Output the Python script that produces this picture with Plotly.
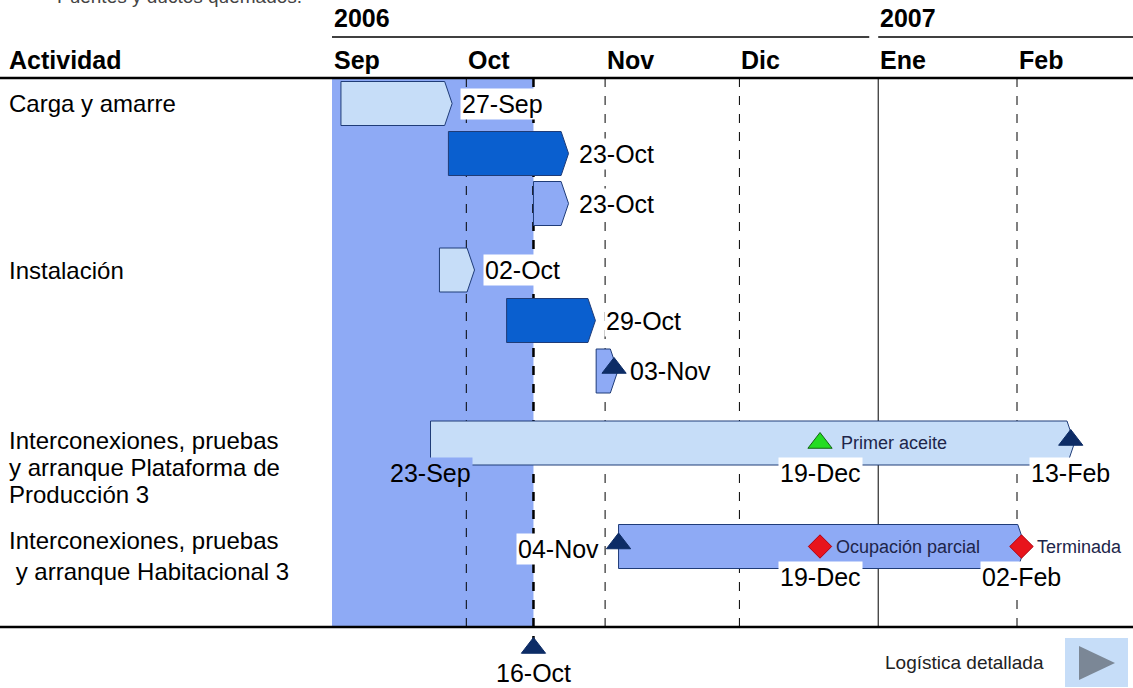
import pandas as pd
import plotly.graph_objects as go

# ================================
# Datos
# ================================
ACTIVIDADES = [
    ["Carga y amarre"],
    ["Instalación"],
    ["Interconexiones, pruebas", "y arranque Plataforma de", "Producción 3"],
    ["Interconexiones, pruebas", " y arranque Habitacional 3"],
]
MESES = ["Sep", "Oct", "Nov", "Dic", "Ene", "Feb"]
INICIO_MES = ["2006-09-01", "2006-10-01", "2006-11-01", "2006-12-01", "2007-01-01", "2007-02-01"]
ANIOS = ["2006", "2007"]
INICIO_ANIO = ["2006-09-01", "2007-01-01"]
HOY = "2006-10-16"

TAREA_INICIO = ["2006-09-03", "2006-09-27", "2006-10-16", "2006-09-25",
                "2006-10-10", "2006-10-30", "2006-09-23", "2006-11-04"]
TAREA_FIN = ["2006-09-27", "2006-10-23", "2006-10-23", "2006-10-02",
             "2006-10-29", "2006-11-03", "2007-02-13", "2007-02-02"]
TAREA_TIPO = ["claro", "oscuro", "medio", "claro", "oscuro", "medio", "claro", "medio"]

HITO_FECHA = ["2006-11-03", "2006-12-19", "2007-02-13", "2006-11-04", "2006-12-19", "2007-02-02"]
HITO_TAREA = [5, 6, 6, 7, 7, 7]
HITO_TIPO = ["fin", "aceite", "fin", "fin", "parcial", "parcial"]
HITO_TEXTO = ["", "Primer aceite", "", "", "Ocupación parcial", "Terminada"]

# ================================
# Estilo / posiciones (px)
# ================================
W, H = 1133, 688
FONT = "Liberation Sans, Arial, sans-serif"
FILA_Y = [103.5, 153.5, 203.5, 270, 320.5, 371, 443, 546.5]
ACT_Y = [[103], [270], [440, 467, 494], [540, 571]]
MEDIA_ALTURA = 22
Y_CAB = 78      # linea bajo encabezado
Y_PIE = 627     # linea inferior
Y_HOY = 648

COLOR = {"claro": "#c6ddf8", "oscuro": "#0a5fcf", "medio": "#8eaaf5"}
SOMBRA = "#8eaaf5"
BORDE = "#1f3c78"
NAVY = "#0d2c66"
F_CAB = 25     # encabezados en negrita
F_ACT = 24     # actividades
F_FECHA = 25   # etiquetas de fecha
F_HITO = 18

# escala: 1-Sep -> x=332, 1-Feb -> x=1017
ppd = (1017 - 332) / 153
x_ini = pd.Timestamp("2006-09-01") - pd.Timedelta(days=332 / ppd)
x_fin = pd.Timestamp("2007-02-01") + pd.Timedelta(days=(W - 1017) / ppd)


def fmt(d):
    return pd.Timestamp(d).strftime("%d-%b")


fig = go.Figure()
shapes = []
ann = []

# zona sombreada hasta hoy
shapes.append(dict(type="rect", xref="x", yref="y", x0="2006-09-01", x1=HOY,
                   y0=Y_CAB, y1=Y_PIE, fillcolor=SOMBRA, line_width=0, layer="below"))

# lineas de meses
for m, d in zip(MESES, INICIO_MES):
    if d == "2006-09-01":
        continue
    solida = d == "2007-01-01"
    shapes.append(dict(type="line", xref="x", yref="y", x0=d, x1=d, y0=Y_CAB, y1=Y_PIE,
                       line=dict(color="black", width=1, dash="solid" if solida else "dash"),
                       layer="below"))
# linea de hoy
shapes.append(dict(type="line", xref="x", yref="y", x0=HOY, x1=HOY, y0=Y_CAB, y1=Y_HOY - 8,
                   line=dict(color="black", width=2.5, dash="dash"), layer="below"))

# lineas horizontales
shapes.append(dict(type="line", xref="paper", yref="y", x0=0, x1=1, y0=Y_CAB, y1=Y_CAB,
                   line=dict(color="black", width=2.5)))
shapes.append(dict(type="line", xref="paper", yref="y", x0=0, x1=1, y0=Y_PIE, y1=Y_PIE,
                   line=dict(color="black", width=2.5)))
# lineas de años
fin_2006 = pd.Timestamp(INICIO_ANIO[1]) - pd.Timedelta(days=2)
shapes.append(dict(type="line", xref="x", yref="y", x0=INICIO_ANIO[0], x1=fin_2006, y0=37, y1=37,
                   line=dict(color="black", width=1.5)))
shapes.append(dict(type="line", xref="x", yref="y", x0=INICIO_ANIO[1], x1=x_fin, y0=37, y1=37,
                   line=dict(color="black", width=1.5)))

# encabezados
ann.append(dict(xref="paper", yref="y", x=7 / W, y=60, text="<b>Actividad</b>",
                xanchor="left", yanchor="middle", showarrow=False, font=dict(size=F_CAB, color="black")))
for a, d in zip(ANIOS, INICIO_ANIO):
    ann.append(dict(x=d, y=18, text="<b>%s</b>" % a, xanchor="left", yanchor="middle",
                    showarrow=False, font=dict(size=F_CAB, color="black")))
for m, d in zip(MESES, INICIO_MES):
    ann.append(dict(x=d, y=60, text="<b>%s</b>" % m, xanchor="left", yanchor="middle",
                    showarrow=False, font=dict(size=F_CAB, color="black")))

# actividades (columna izquierda)
for lineas, ys in zip(ACTIVIDADES, ACT_Y):
    for t, y in zip(lineas, ys):
        txt = "&nbsp;" + t[1:] if t.startswith(" ") else t
        ann.append(dict(xref="paper", yref="y", x=7 / W, y=y, text=txt,
                        xanchor="left", yanchor="middle", showarrow=False,
                        font=dict(size=F_ACT, color="black")))

# barras (flechas)
for i, (s, e, k) in enumerate(zip(TAREA_INICIO, TAREA_FIN, TAREA_TIPO)):
    yc = FILA_Y[i]
    hombro = pd.Timestamp(e) - pd.Timedelta(hours=20)
    punta = pd.Timestamp(e) + pd.Timedelta(hours=20)
    xs = [s, hombro, punta, hombro, s, s]
    ys = [yc - MEDIA_ALTURA, yc - MEDIA_ALTURA, yc, yc + MEDIA_ALTURA, yc + MEDIA_ALTURA, yc - MEDIA_ALTURA]
    fig.add_trace(go.Scatter(x=xs, y=ys, mode="lines", fill="toself", fillcolor=COLOR[k],
                             line=dict(color=BORDE, width=1), hoverinfo="skip", showlegend=False))

# etiquetas de fin de barra
for i in range(6):
    ann.append(dict(x=TAREA_FIN[i], y=FILA_Y[i], text=fmt(TAREA_FIN[i]), xanchor="left",
                    yanchor="middle", xshift=14 if i == 5 else 12, showarrow=False,
                    bgcolor="white", borderpad=1, font=dict(size=F_FECHA, color="black")))

# etiquetas de barras largas
ann.append(dict(x=TAREA_INICIO[6], y=FILA_Y[6] + 30, text=fmt(TAREA_INICIO[6]), xanchor="right",
                yanchor="middle", xshift=42, showarrow=False, bgcolor=SOMBRA, borderpad=1,
                font=dict(size=F_FECHA, color="black")))
ann.append(dict(x=TAREA_INICIO[7], y=FILA_Y[7] + 2, text=fmt(TAREA_INICIO[7]), xanchor="right",
                yanchor="middle", xshift=-18, showarrow=False, bgcolor="white", borderpad=1,
                font=dict(size=F_FECHA, color="black")))

# hitos
estilo = {
    "fin": dict(symbol="triangle-up", color=NAVY, size=21, line=dict(color=NAVY, width=1)),
    "aceite": dict(symbol="triangle-up", color="#22dd22", size=21, line=dict(color="#126612", width=1)),
    "parcial": dict(symbol="diamond", color="#e8141c", size=18, line=dict(color="#b00010", width=1)),
}
for j, (d, t, k, txt) in enumerate(zip(HITO_FECHA, HITO_TAREA, HITO_TIPO, HITO_TEXTO)):
    off = -3 if k == "fin" else 0
    fig.add_trace(go.Scatter(x=[d], y=[FILA_Y[t] + off], mode="markers", marker=estilo[k],
                             hoverinfo="skip", showlegend=False))
    if txt:
        ann.append(dict(x=d, y=FILA_Y[t], text=txt, xanchor="left", yanchor="middle",
                        xshift=19 if j == 1 else 14, showarrow=False,
                        font=dict(size=F_HITO, color="#20254a")))
    if t >= 6 and d != TAREA_INICIO[7]:
        ann.append(dict(x=d, y=FILA_Y[t] + 30, text=fmt(d), xanchor="center", yanchor="middle",
                        showarrow=False, bgcolor="white", borderpad=1,
                        font=dict(size=F_FECHA, color="black")))

# marcador de hoy
fig.add_trace(go.Scatter(x=[HOY], y=[Y_HOY], mode="markers", marker=estilo["fin"],
                         hoverinfo="skip", showlegend=False))
ann.append(dict(x=HOY, y=673, text=fmt(HOY), xanchor="center", yanchor="middle",
                showarrow=False, font=dict(size=F_FECHA, color="black")))

# texto superior recortado
ann.append(dict(xref="paper", yref="y", x=55 / W, y=9, text="Puentes y ductos quemados.",
                xanchor="left", yanchor="bottom", showarrow=False,
                font=dict(size=19, color="#444444")))

# boton
ann.append(dict(xref="paper", yref="y", x=1046 / W, y=662, text="Logística detallada",
                xanchor="right", yanchor="middle", showarrow=False,
                font=dict(size=19, color="#222222")))
shapes.append(dict(type="rect", xref="paper", yref="y", x0=1065 / W, x1=1128 / W, y0=638, y1=687,
                   fillcolor="#c6ddf8", line_width=0))
shapes.append(dict(type="path", xref="paper", yref="y",
                   path="M %f,646 L %f,680 L %f,663 Z" % (1079 / W, 1079 / W, 1115 / W),
                   fillcolor="#7b8796", line_width=0))

fig.update_layout(
    width=W, height=H,
    margin=dict(l=0, r=0, t=0, b=0),
    paper_bgcolor="white", plot_bgcolor="white",
    font=dict(family=FONT, color="black"),
    shapes=shapes, annotations=ann, showlegend=False,
    xaxis=dict(type="date", range=[x_ini, x_fin], visible=False, fixedrange=True),
    yaxis=dict(range=[H, 0], visible=False, fixedrange=True),
)

fig.write_html("out.html", config={"displayModeBar": False},
               post_script="document.body.style.margin='0';")
